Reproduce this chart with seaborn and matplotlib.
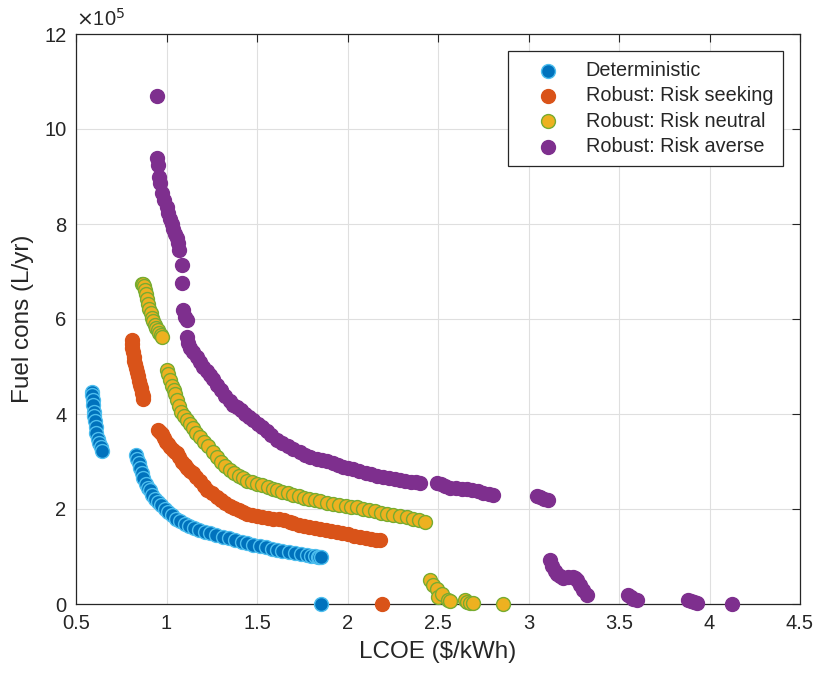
import matplotlib
matplotlib.use("Agg")
import matplotlib.pyplot as plt
import seaborn as sns
import pandas as pd

# ---------------- data (y in units of 1e5 L/yr) ----------------
det_x = [0.588, 0.590, 0.592, 0.594, 0.597, 0.600, 0.604, 0.608, 0.613, 0.620, 0.628, 0.636, 0.645,
         0.831, 0.838, 0.846, 0.853, 0.862, 0.872, 0.884, 0.897, 0.909, 0.922, 0.936, 0.952, 0.970,
         0.990, 1.010, 1.030, 1.052, 1.075, 1.100, 1.125, 1.150, 1.180, 1.210, 1.240, 1.275, 1.310,
         1.345, 1.380, 1.415, 1.445, 1.480, 1.515, 1.550, 1.585, 1.610, 1.640, 1.675, 1.710, 1.745,
         1.775, 1.800, 1.820, 1.835, 1.845, 1.855,
         1.854]
det_y = [4.46, 4.40, 4.30, 4.18, 4.05, 3.95, 3.85, 3.72, 3.60, 3.48, 3.38, 3.30, 3.22,
         3.14, 3.05, 2.96, 2.86, 2.76, 2.65, 2.53, 2.45, 2.39, 2.30, 2.21, 2.15, 2.08,
         1.99, 1.94, 1.88, 1.80, 1.74, 1.69, 1.64, 1.60, 1.56, 1.52, 1.485, 1.45, 1.41,
         1.38, 1.35, 1.30, 1.275, 1.25, 1.22, 1.19, 1.16, 1.13, 1.11, 1.09, 1.07, 1.05,
         1.03, 1.02, 1.01, 1.00, 0.995, 0.99,
         0.0]

seek_x = [0.808, 0.810, 0.812, 0.815, 0.818, 0.822, 0.826, 0.830, 0.835, 0.840, 0.846, 0.852,
          0.858, 0.864, 0.869, 0.872,
          0.955, 0.965, 0.975, 0.986, 0.998, 1.010, 1.022, 1.035, 1.048, 1.056, 1.070, 1.085,
          1.100, 1.115, 1.130, 1.148, 1.165, 1.185, 1.205, 1.225, 1.250, 1.277, 1.300, 1.325,
          1.350, 1.375, 1.400, 1.425, 1.443, 1.470, 1.500, 1.530, 1.560, 1.590, 1.620, 1.650,
          1.680, 1.701, 1.730, 1.760, 1.790, 1.820, 1.850, 1.880, 1.910, 1.940, 1.970, 2.000,
          2.035, 2.069, 2.100, 2.130, 2.160, 2.180,
          2.189]
seek_y = [5.55, 5.48, 5.40, 5.30, 5.20, 5.12, 5.05, 4.97, 4.88, 4.80, 4.70, 4.62,
          4.54, 4.45, 4.38, 4.32,
          3.66, 3.62, 3.57, 3.50, 3.42, 3.36, 3.30, 3.24, 3.20, 3.17, 3.09, 3.00,
          2.93, 2.87, 2.81, 2.75, 2.67, 2.58, 2.49, 2.41, 2.33, 2.25, 2.19, 2.13,
          2.07, 2.02, 1.98, 1.94, 1.905, 1.88, 1.86, 1.84, 1.82, 1.80, 1.78, 1.76,
          1.72, 1.695, 1.67, 1.64, 1.62, 1.60, 1.58, 1.56, 1.54, 1.52, 1.50, 1.47,
          1.44, 1.41, 1.39, 1.37, 1.35, 1.34,
          0.0]

neut_x = [0.863, 0.868, 0.874, 0.880, 0.886, 0.892, 0.898, 0.905, 0.912, 0.920, 0.928, 0.936,
          0.944, 0.952, 0.960, 0.967, 0.973,
          1.001, 1.010, 1.020, 1.030, 1.040, 1.047, 1.058, 1.070, 1.082, 1.095, 1.112, 1.128,
          1.145, 1.165, 1.185, 1.205, 1.230, 1.255, 1.277, 1.300, 1.325, 1.350, 1.375, 1.400,
          1.420, 1.443, 1.470, 1.500, 1.530, 1.560, 1.590, 1.609, 1.640, 1.670, 1.700, 1.730,
          1.760, 1.790, 1.820, 1.850, 1.885, 1.920, 1.955, 1.990, 2.020, 2.051, 2.085, 2.120,
          2.150, 2.185, 2.217, 2.250, 2.290, 2.327, 2.360, 2.395, 2.428,
          2.456, 2.474, 2.493, 2.502, 2.520, 2.557, 2.566, 2.649, 2.659, 2.677, 2.695, 2.861]
neut_y = [6.74, 6.73, 6.70, 6.62, 6.52, 6.42, 6.32, 6.22, 6.12, 6.03, 5.95, 5.88,
          5.82, 5.76, 5.70, 5.66, 5.62,
          4.92, 4.85, 4.72, 4.60, 4.50, 4.43, 4.30, 4.16, 4.05, 3.96, 3.87, 3.78,
          3.70, 3.60, 3.51, 3.42, 3.32, 3.20, 3.09, 3.00, 2.91, 2.83, 2.76, 2.70,
          2.65, 2.60, 2.56, 2.53, 2.50, 2.47, 2.42, 2.39, 2.36, 2.33, 2.30, 2.27,
          2.24, 2.21, 2.19, 2.17, 2.13, 2.11, 2.09, 2.07, 2.05, 2.04, 2.01, 1.98,
          1.95, 1.92, 1.905, 1.88, 1.86, 1.83, 1.80, 1.77, 1.73,
          0.50, 0.40, 0.31, 0.15, 0.22, 0.08, 0.06, 0.08, 0.05, 0.015, 0.02, 0.0]

avr_x = [0.946, 0.949, 0.955, 0.960, 0.964, 0.973, 0.985, 1.001, 1.010, 1.019, 1.029, 1.038,
         1.047, 1.056, 1.064, 1.071, 1.084, 1.084, 1.093, 1.102, 1.112, 1.112, 1.120, 1.130,
         1.148, 1.167, 1.185, 1.203, 1.222, 1.240, 1.258, 1.277, 1.300, 1.325, 1.350, 1.370,
         1.388, 1.410, 1.435, 1.458, 1.480, 1.505, 1.530, 1.555, 1.580, 1.609, 1.640, 1.670,
         1.700, 1.738, 1.765, 1.793, 1.830, 1.860, 1.885, 1.920, 1.950, 1.977, 2.005, 2.032,
         2.065, 2.100, 2.130, 2.165, 2.198, 2.230, 2.260, 2.290, 2.320, 2.350, 2.380, 2.400,
         2.493, 2.515, 2.540, 2.566, 2.600, 2.630, 2.659, 2.690, 2.720, 2.750, 2.780, 2.806,
         3.045, 3.065, 3.085, 3.108,
         3.119, 3.130, 3.145, 3.156, 3.175, 3.192, 3.220, 3.245, 3.257, 3.270, 3.285, 3.300, 3.322,
         3.551, 3.565, 3.580, 3.598,
         3.883, 3.900, 3.915, 3.929,
         4.123]
avr_y = [10.69, 9.38, 9.24, 9.00, 8.86, 8.65, 8.51, 8.36, 8.23, 8.10, 8.01, 7.90,
         7.80, 7.70, 7.59, 7.45, 7.14, 6.75, 6.19, 6.05, 5.98, 5.63, 5.49, 5.40,
         5.30, 5.20, 5.10, 5.00, 4.90, 4.82, 4.73, 4.62, 4.50, 4.38, 4.28, 4.20,
         4.15, 4.08, 4.00, 3.93, 3.87, 3.80, 3.72, 3.64, 3.56, 3.45, 3.39, 3.33,
         3.27, 3.20, 3.14, 3.09, 3.06, 3.04, 3.02, 2.97, 2.92, 2.88, 2.86, 2.84,
         2.80, 2.76, 2.73, 2.70, 2.67, 2.65, 2.63, 2.61, 2.59, 2.57, 2.56, 2.54,
         2.54, 2.52, 2.48, 2.45, 2.44, 2.43, 2.42, 2.40, 2.37, 2.34, 2.31, 2.29,
         2.27, 2.25, 2.22, 2.19,
         0.92, 0.80, 0.70, 0.64, 0.58, 0.54, 0.56, 0.57, 0.55, 0.50, 0.40, 0.30, 0.20,
         0.20, 0.15, 0.10, 0.08,
         0.08, 0.07, 0.05, 0.02,
         0.0]

series_labels = ["Deterministic", "Robust: Risk seeking", "Robust: Risk neutral", "Robust: Risk averse"]
x_ticks = [0.5, 1, 1.5, 2, 2.5, 3, 3.5, 4, 4.5]
x_tick_labels = ["0.5", "1", "1.5", "2", "2.5", "3", "3.5", "4", "4.5"]
y_ticks = [0, 2, 4, 6, 8, 10, 12]

# ---------------- styling ----------------
sns.set_theme(style="white")
plt.rcParams["font.family"] = ["Liberation Sans", "DejaVu Sans"]
axis_col = "#262626"

faces = ["#0072BD", "#D95319", "#EDB120", "#7E2F8E"]
edges = ["#4DBEEE", "#D95319", "#77AC30", "#7E2F8E"]

fig = plt.figure(figsize=(8.18, 6.77), dpi=100)
ax = fig.add_axes([76 / 818, 73 / 677, 724 / 818, 570 / 677])

data = [(det_x, det_y), (seek_x, seek_y), (neut_x, neut_y), (avr_x, avr_y)]
for (xs, ys), lab, fc, ec in zip(data, series_labels, faces, edges):
    sns.scatterplot(x=xs, y=ys, ax=ax, color=fc, edgecolor=ec, linewidth=1.0,
                    s=100, marker="o", label=lab, clip_on=False, zorder=3)

ax.set_xlim(0.5, 4.5)
ax.set_ylim(0, 12)
ax.set_xticks(x_ticks)
ax.set_xticklabels(x_tick_labels)
ax.set_yticks(y_ticks)
ax.grid(True, color="#DFDFDF", linewidth=0.8)
ax.set_axisbelow(True)
for sp in ax.spines.values():
    sp.set_color(axis_col)
    sp.set_linewidth(0.9)
    sp.set_visible(True)
ax.tick_params(direction="in", top=True, right=True, length=6, width=0.8,
               labelsize=14.5, colors=axis_col, pad=7)

ax.set_xlabel("LCOE ($/kWh)", fontsize=17.5, color=axis_col, labelpad=6)
ax.set_ylabel("Fuel cons (L/yr)", fontsize=17.5, color=axis_col, labelpad=7)
ax.text(0.0, 1.008, r"$\times$10$^{5}$", transform=ax.transAxes, ha="left", va="bottom",
        fontsize=14.5, color=axis_col)

leg = ax.legend(loc="upper right", fontsize=14.3, frameon=True, fancybox=False,
                edgecolor=axis_col, framealpha=1, handlelength=3.0, handletextpad=0.4,
                borderpad=0.5, labelspacing=0.32, borderaxespad=0.85)
leg.get_frame().set_linewidth(0.9)
for t in leg.get_texts():
    t.set_color(axis_col)

fig.savefig("out.png", dpi=100)
